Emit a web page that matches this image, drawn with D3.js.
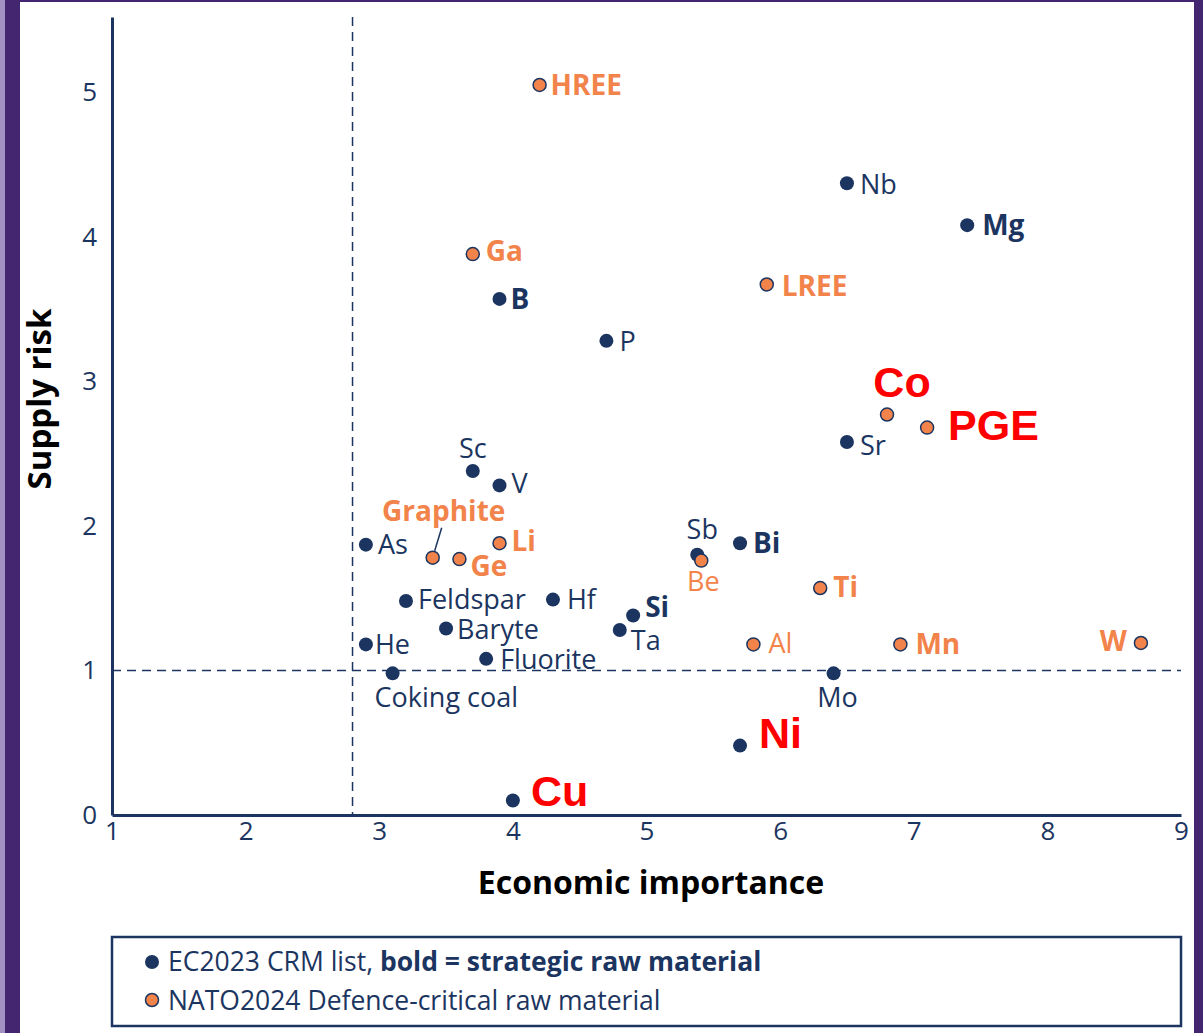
<!DOCTYPE html>
<html>
<head>
<meta charset="UTF-8">
<title>Supply risk vs economic importance</title>
<script src="https://d3js.org/d3.v7.min.js"></script>
<style>
  body { margin: 0; background: #fff; }
  text { font-family: "Open Sans", "Noto Sans", sans-serif; }
</style>
</head>
<body>
<div id="chart"></div>
<script>
// ---- data ----
var names = ["HREE", "Nb", "Mg", "Ga", "LREE", "B", "P", "Co", "PGE", "Sr", "Sc", "V",
  "As", "Graphite", "Ge", "Li", "Sb", "Be", "Bi", "Ti", "Feldspar", "Hf", "Si",
  "Baryte", "Ta", "He", "Al", "Mn", "W", "Fluorite", "Coking coal", "Mo", "Ni", "Cu"];
var econ = [4.2, 6.5, 7.4, 3.7, 5.9, 3.9, 4.7, 6.8, 7.1, 6.5, 3.7, 3.9,
  2.9, 3.4, 3.6, 3.9, 5.38, 5.41, 5.7, 6.3, 3.2, 4.3, 4.9,
  3.5, 4.8, 2.9, 5.8, 6.9, 8.7, 3.8, 3.1, 6.4, 5.7, 4.0];
var risk = [5.05, 4.37, 4.08, 3.88, 3.67, 3.57, 3.28, 2.77, 2.68, 2.58, 2.38, 2.28,
  1.87, 1.78, 1.77, 1.88, 1.8, 1.76, 1.88, 1.57, 1.48, 1.49, 1.38,
  1.29, 1.28, 1.18, 1.18, 1.18, 1.19, 1.08, 0.98, 0.98, 0.48, 0.1];
var natoList = ["HREE", "Ga", "LREE", "Co", "PGE", "Graphite", "Ge", "Li", "Be", "Ti", "Al", "Mn", "W"];
var strategicList = ["HREE", "Ga", "LREE", "Graphite", "Li", "Ge", "Ti", "Mn", "W",
  "Mg", "B", "Bi", "Si", "Co", "PGE", "Ni", "Cu"];
var highlightList = ["Co", "PGE", "Ni", "Cu"];
var xTicks = [1, 2, 3, 4, 5, 6, 7, 8, 9];
var yTicks = [0, 1, 2, 3, 4, 5];
var thresholdX = 2.8;
var thresholdY = 1;

// label placement: [dx, dy, anchor] in pixels from the dot
var place = {
  "HREE": [11, 0, "start"], "Nb": [13, 1, "start"], "Mg": [15, 0, "start"],
  "Ga": [13, -3, "start"], "LREE": [15, 1, "start"], "B": [11, 0, "start"],
  "P": [13, 0, "start"], "Co": [15, -33, "middle"], "PGE": [21, -3, "start"],
  "Sr": [13, 3, "start"], "Sc": [0, -23, "middle"], "V": [12, -2, "start"],
  "As": [12, 0, "start"], "Graphite": [11, -47, "middle"], "Ge": [11, 7, "start"],
  "Li": [12, -2, "start"], "Sb": [5, -26, "middle"], "Be": [2, 21, "middle"],
  "Bi": [13, 0, "start"], "Ti": [13, -1, "start"], "Feldspar": [12, -2, "start"],
  "Hf": [14, 0, "start"], "Si": [12, -9, "start"], "Baryte": [11, 1, "start"],
  "Ta": [11, 10, "start"], "He": [9, 0, "start"], "Al": [15, -1, "start"],
  "Mn": [15, 0, "start"], "W": [-14, -2, "end"], "Fluorite": [14, 0, "start"],
  "Coking coal": [-18, 24, "start"], "Mo": [4, 24, "middle"],
  "Ni": [19, -13, "start"], "Cu": [18, -10, "start"]
};

var navy = "#1b3560", orange = "#f2834a", red = "#ff0000";
var W = 1203, H = 1033;

var svg = d3.select("#chart").append("svg")
  .attr("width", W).attr("height", H);

// frame
svg.append("rect").attr("x", 0).attr("y", 0).attr("width", 5).attr("height", H).attr("fill", "#a291c2");
svg.append("rect").attr("x", 5).attr("y", 0).attr("width", 15).attr("height", H).attr("fill", "#43266f");
svg.append("rect").attr("x", 20).attr("y", 0).attr("width", W - 20).attr("height", 2).attr("fill", "#43266f");
svg.append("rect").attr("x", 1194).attr("y", 0).attr("width", 9).attr("height", H).attr("fill", "#43266f");

// scales
var x = d3.scaleLinear().domain([1, 9]).range([112, 1181]);
var y = d3.scaleLinear().domain([0, 5.52]).range([815, 17]);

// dashed reference lines
svg.append("line")
  .attr("x1", x(thresholdX)).attr("x2", x(thresholdX))
  .attr("y1", y(5.52)).attr("y2", y(0))
  .attr("stroke", navy).attr("stroke-width", 1.5).attr("stroke-dasharray", "9,6");
svg.append("line")
  .attr("x1", x(1)).attr("x2", x(9))
  .attr("y1", y(thresholdY)).attr("y2", y(thresholdY))
  .attr("stroke", navy).attr("stroke-width", 1.5).attr("stroke-dasharray", "9,6");

// axes
var yAxis = svg.append("g")
  .attr("transform", "translate(" + x(1) + ",0)")
  .call(d3.axisLeft(y).tickValues(yTicks).tickSize(0).tickPadding(15).tickFormat(d3.format("d")));
var xAxis = svg.append("g")
  .attr("transform", "translate(0," + y(0) + ")")
  .call(d3.axisBottom(x).tickValues(xTicks).tickSize(0).tickPadding(7).tickFormat(d3.format("d")));
[xAxis, yAxis].forEach(function (a) {
  a.select(".domain").attr("stroke", navy).attr("stroke-width", 3);
  a.selectAll("text").attr("fill", navy).style("font-size", "26px")
    .style("font-family", "'Open Sans', sans-serif");
});

// axis titles
svg.append("text")
  .attr("x", 651).attr("y", 894)
  .attr("text-anchor", "middle")
  .style("font-size", "32px").style("font-weight", "bold").attr("fill", "#000")
  .text("Economic importance");
svg.append("text")
  .attr("transform", "translate(51,399) rotate(-90)")
  .attr("text-anchor", "middle")
  .style("font-size", "33px").style("font-weight", "bold").attr("fill", "#000")
  .text("Supply risk");

var data = names.map(function (n, i) {
  return {
    name: n, x: econ[i], y: risk[i],
    nato: natoList.indexOf(n) >= 0,
    strategic: strategicList.indexOf(n) >= 0,
    highlight: highlightList.indexOf(n) >= 0
  };
});

// leader line for Graphite
var g = data.filter(function (d) { return d.name === "Graphite"; })[0];
svg.append("line")
  .attr("x1", x(g.x) + 9).attr("y1", y(g.y) - 30)
  .attr("x2", x(g.x) + 2).attr("y2", y(g.y) - 7)
  .attr("stroke", navy).attr("stroke-width", 1.5);

// dots
svg.selectAll("circle.pt")
  .data(data)
  .enter()
  .append("circle")
  .attr("class", "pt")
  .attr("cx", function (d) { return x(d.x); })
  .attr("cy", function (d) { return y(d.y); })
  .attr("r", function (d) { return d.nato ? 6.5 : 7; })
  .attr("fill", function (d) { return d.nato ? orange : navy; })
  .attr("stroke", navy)
  .attr("stroke-width", function (d) { return d.nato ? 1.5 : 0; });

// labels
svg.selectAll("text.lbl")
  .data(data)
  .enter()
  .append("text")
  .attr("class", "lbl")
  .attr("x", function (d) { return x(d.x) + place[d.name][0]; })
  .attr("y", function (d) { return y(d.y) + place[d.name][1]; })
  .attr("dy", "0.36em")
  .attr("text-anchor", function (d) { return place[d.name][2]; })
  .attr("fill", function (d) { return d.highlight ? red : (d.nato ? orange : navy); })
  .style("font-family", function (d) {
    return d.highlight ? "'Liberation Sans', Arial, sans-serif" : "'Open Sans', sans-serif";
  })
  .style("font-size", function (d) { return d.highlight ? "43px" : (d.strategic ? "28px" : "27px"); })
  .style("font-weight", function (d) { return d.strategic ? "bold" : "normal"; })
  .text(function (d) { return d.name; });

// legend
svg.append("rect")
  .attr("x", 112).attr("y", 937).attr("width", 1069).attr("height", 89)
  .attr("fill", "none").attr("stroke", navy).attr("stroke-width", 2.5);
svg.append("circle").attr("cx", 152).attr("cy", 962).attr("r", 7).attr("fill", navy);
svg.append("circle").attr("cx", 152).attr("cy", 1000).attr("r", 6.5)
  .attr("fill", orange).attr("stroke", navy).attr("stroke-width", 1.5);
var l1 = svg.append("text").attr("x", 168).attr("y", 961).attr("dy", "0.36em")
  .attr("fill", navy).style("font-size", "26.5px");
l1.append("tspan").text("EC2023 CRM list, ");
l1.append("tspan").style("font-weight", "bold").text("bold = strategic raw material");
svg.append("text").attr("x", 168).attr("y", 1000).attr("dy", "0.36em")
  .attr("fill", navy).style("font-size", "26.5px")
  .text("NATO2024 Defence-critical raw material");
</script>
</body>
</html>
